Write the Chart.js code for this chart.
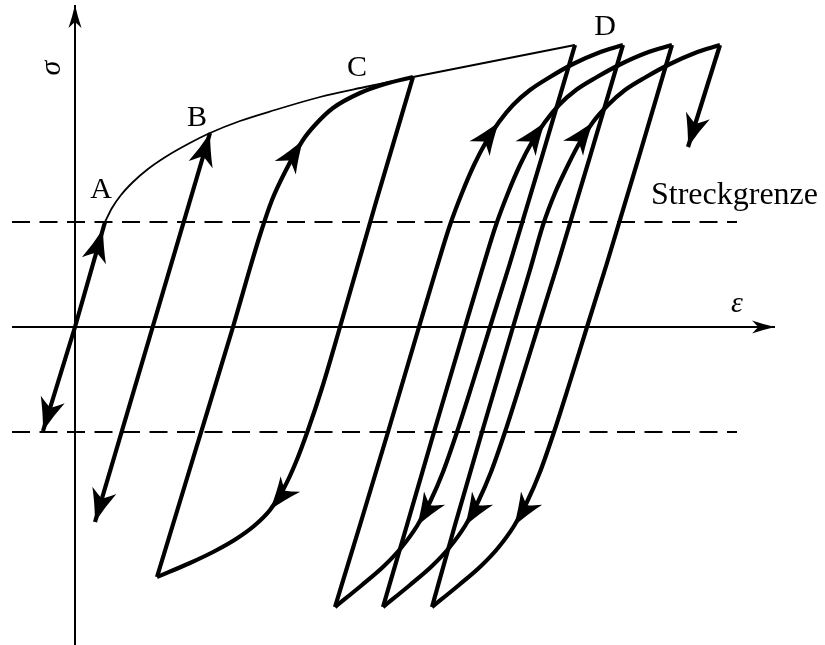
<!DOCTYPE html>
<html>
<head>
<meta charset="utf-8">
<script src="https://cdn.jsdelivr.net/npm/chart.js@4/dist/chart.umd.min.js"></script>
<style>
  html, body { margin: 0; padding: 0; background: #fff; }
  #wrap { width: 825px; height: 645px; }
</style>
</head>
<body>
<div id="wrap"><canvas id="c" width="825" height="645"></canvas></div>
<script>
// Spannungs-Dehnungs-Schema, Werte (eps, sigma in willkuerlichen Einheiten)
const sigYield = 1.05;

// Erstbelastung A -> C (duenne Kurve), dann gerade bis D
const epsVirgin = [0.30, 0.37, 0.46, 0.58, 0.73, 0.92, 1.13, 1.35, 1.65, 2.00, 2.45, 2.90, 3.38];
const sigVirgin = [1.05, 1.19, 1.32, 1.45, 1.58, 1.71, 1.83, 1.94, 2.06, 2.17, 2.30, 2.40, 2.50];
const epsCD = [3.38, 5.00];
const sigCD = [2.50, 2.82];

// elastische Geraden durch den Ursprung und durch B
const epsOrigin = [-0.32, 0, 0.28, 0.30];
const sigOrigin = [-1.04, 0, 0.98, 1.05];
const epsB = [0.20, 1.35];
const sigB = [-1.95, 1.94];

// Schleife bei C
const epsCUnload = [3.38, 3.01, 2.65, 2.47, 2.33, 2.21, 2.09, 1.95, 1.79, 1.61, 1.40, 1.15, 0.82];
const sigCUnload = [2.50, 1.25, 0.00, -0.61, -1.03, -1.35, -1.61, -1.83, -1.99, -2.12, -2.24, -2.36, -2.50];
const epsCReload = [0.82, 1.20, 1.58, 1.73, 1.85, 1.97, 2.10, 2.28, 2.40, 2.58, 2.85, 3.10, 3.38];
const sigCReload = [-2.50, -1.25, 0.00, 0.52, 0.92, 1.27, 1.55, 1.87, 2.02, 2.19, 2.34, 2.43, 2.50];

// Zyklen nach D
const sigUnload = [2.82, 1.67, 0.64, 0.00, -0.58, -1.05, -1.45, -1.75, -1.99, -2.21, -2.39, -2.58, -2.80];
const epsUnload1 = [5.00, 4.66, 4.35, 4.15, 3.97, 3.82, 3.68, 3.55, 3.42, 3.26, 3.09, 2.87, 2.60];
const epsUnload2 = [5.48, 5.14, 4.83, 4.63, 4.45, 4.30, 4.16, 4.03, 3.90, 3.74, 3.57, 3.35, 3.08];
const epsUnload3 = [5.97, 5.63, 5.32, 5.12, 4.94, 4.79, 4.65, 4.52, 4.39, 4.23, 4.06, 3.84, 3.57];

const sigReload = [-2.80, -1.98, -1.05, 0.00, 0.57, 1.02, 1.34, 1.62, 1.85, 2.05, 2.22, 2.37, 2.50, 2.63, 2.74, 2.82];
const epsReload1 = [2.60, 2.85, 3.13, 3.44, 3.61, 3.75, 3.87, 3.99, 4.11, 4.24, 4.38, 4.55, 4.75, 4.98, 5.23, 5.48];
const epsReload2 = [3.08, 3.32, 3.59, 3.90, 4.07, 4.21, 4.33, 4.45, 4.57, 4.70, 4.84, 5.01, 5.22, 5.46, 5.71, 5.97];
const epsReload3 = [3.57, 3.80, 4.07, 4.38, 4.55, 4.68, 4.80, 4.93, 5.05, 5.18, 5.33, 5.50, 5.71, 5.95, 6.20, 6.45];

const epsLast = [6.45, 6.13];
const sigLast = [2.82, 1.80];

// Achsen und Streckgrenze
const epsAxisX = [-0.63, 7.00];
const sigAxisY = [-3.18, 3.22];
const epsDash = [-0.63, 6.62];

const pts = (xs, ys) => xs.map((x, i) => ({ x: x, y: ys[i] }));

function linie(data, width, glatt, dash) {
  return {
    data: data,
    showLine: true,
    borderColor: '#000',
    backgroundColor: '#000',
    borderWidth: width,
    pointRadius: 0,
    tension: glatt ? 0.4 : 0,
    cubicInterpolationMode: glatt ? 'monotone' : 'default',
    borderDash: dash || [],
    borderCapStyle: 'butt',
    borderJoinStyle: 'round',
    clip: false
  };
}

const dick = 4.2;
const datasets = [
  linie(pts([0, 0], sigAxisY), 2, false),                          // 0 sigma-Achse
  linie(pts(epsAxisX, [0, 0]), 2, false),                          // 1 eps-Achse
  linie(pts(epsDash, [sigYield, sigYield]), 2, false, [18, 9.5]),  // 2
  linie(pts(epsDash, [-sigYield, -sigYield]), 2, false, [18, 9.5]),// 3
  linie(pts(epsVirgin, sigVirgin), 1.8, true),                     // 4
  linie(pts(epsCD, sigCD), 1.8, false),                            // 5
  linie(pts(epsOrigin, sigOrigin), dick, false),                   // 6
  linie(pts(epsB, sigB), dick, false),                             // 7
  linie(pts(epsCUnload, sigCUnload), dick, true),                  // 8
  linie(pts(epsCReload, sigCReload), dick, true),                  // 9
  linie(pts(epsUnload1, sigUnload), dick, true),                   // 10
  linie(pts(epsReload1, sigReload), dick, true),                   // 11
  linie(pts(epsUnload2, sigUnload), dick, true),                   // 12
  linie(pts(epsReload2, sigReload), dick, true),                   // 13
  linie(pts(epsUnload3, sigUnload), dick, true),                   // 14
  linie(pts(epsReload3, sigReload), dick, true),                   // 15
  linie(pts(epsLast, sigLast), dick, false)                        // 16
];

// Pfeilspitzen: Datensatz, Punkt, Richtung (+1 vorwaerts, -1 rueckwaerts), klein = Achse
const pfeile = [
  { ds: 0, i: 1, dir: 1, klein: true },
  { ds: 1, i: 1, dir: 1, klein: true },
  { ds: 6, i: 0, dir: -1 }, { ds: 6, i: 2, dir: 1 },
  { ds: 7, i: 0, dir: -1 }, { ds: 7, i: 1, dir: 1 },
  { ds: 8, i: 7, dir: 1 }, { ds: 9, i: 7, dir: 1 },
  { ds: 10, i: 8, dir: 1 }, { ds: 11, i: 9, dir: 1 },
  { ds: 12, i: 8, dir: 1 }, { ds: 13, i: 9, dir: 1 },
  { ds: 14, i: 8, dir: 1 }, { ds: 15, i: 9, dir: 1 },
  { ds: 16, i: 1, dir: 1 }
];

function spitze(ctx, x, y, ang, len, half) {
  ctx.save();
  ctx.translate(x, y);
  ctx.rotate(ang);
  ctx.beginPath();
  ctx.moveTo(0, 0);
  ctx.quadraticCurveTo(-len * 0.55, half * 0.45, -len, half);
  ctx.quadraticCurveTo(-len * 0.8, half * 0.3, -len * 0.74, 0);
  ctx.quadraticCurveTo(-len * 0.8, -half * 0.3, -len, -half);
  ctx.quadraticCurveTo(-len * 0.55, -half * 0.45, 0, 0);
  ctx.closePath();
  ctx.fillStyle = '#000';
  ctx.fill();
  ctx.restore();
}

const pfeilPlugin = {
  id: 'pfeile',
  afterDatasetsDraw(chart) {
    const ctx = chart.ctx;
    pfeile.forEach(p => {
      const el = chart.getDatasetMeta(p.ds).data;
      const n = el.length;
      let a, b;
      if (p.i === 0) { a = el[1]; b = el[0]; }
      else if (p.i === n - 1) { a = el[n - 2]; b = el[n - 1]; }
      else if (p.dir > 0) { a = el[p.i - 1]; b = el[p.i + 1]; }
      else { a = el[p.i + 1]; b = el[p.i - 1]; }
      const ang = Math.atan2(b.y - a.y, b.x - a.x);
      const tip = el[p.i];
      if (p.klein) spitze(ctx, tip.x, tip.y, ang, 23, 6.5);
      else spitze(ctx, tip.x, tip.y, ang, 33, 12.5);
    });
  }
};

const beschriftung = [
  { t: 'A', x: 0.26, y: 1.29, font: '30px "Liberation Serif"' },
  { t: 'B', x: 1.22, y: 2.01, font: '30px "Liberation Serif"' },
  { t: 'C', x: 2.82, y: 2.51, font: '30px "Liberation Serif"' },
  { t: 'D', x: 5.30, y: 2.92, font: '30px "Liberation Serif"' },
  { t: 'Streckgrenze', x: 5.76, y: 1.23, font: '32px "Liberation Serif"', align: 'left' },
  { t: 'ε', x: 6.62, y: 0.15, font: 'italic 30px "Liberation Serif"' },
  { t: 'σ', x: -0.23, y: 2.59, font: 'italic 30px "Liberation Serif"', drehen: true }
];

const textPlugin = {
  id: 'texte',
  afterDraw(chart) {
    const ctx = chart.ctx;
    const sx = chart.scales.x, sy = chart.scales.y;
    beschriftung.forEach(l => {
      const px = sx.getPixelForValue(l.x), py = sy.getPixelForValue(l.y);
      ctx.save();
      ctx.fillStyle = '#000';
      ctx.font = l.font;
      if (l.drehen) {
        ctx.translate(px, py);
        ctx.rotate(-Math.PI / 2);
        ctx.textAlign = 'center';
        ctx.textBaseline = 'middle';
        ctx.fillText(l.t, 0, 0);
      } else {
        ctx.textAlign = l.align || 'center';
        ctx.textBaseline = 'alphabetic';
        ctx.fillText(l.t, px, py);
      }
      ctx.restore();
    });
  }
};

new Chart(document.getElementById('c').getContext('2d'), {
  type: 'scatter',
  data: { datasets: datasets },
  options: {
    responsive: false,
    devicePixelRatio: 1,
    animation: false,
    events: [],
    layout: { padding: 0 },
    plugins: { legend: { display: false }, tooltip: { enabled: false } },
    scales: {
      x: { type: 'linear', min: -0.75, max: 7.5, display: false },
      y: { type: 'linear', min: -3.18, max: 3.27, display: false }
    }
  },
  plugins: [pfeilPlugin, textPlugin]
});
</script>
</body>
</html>
